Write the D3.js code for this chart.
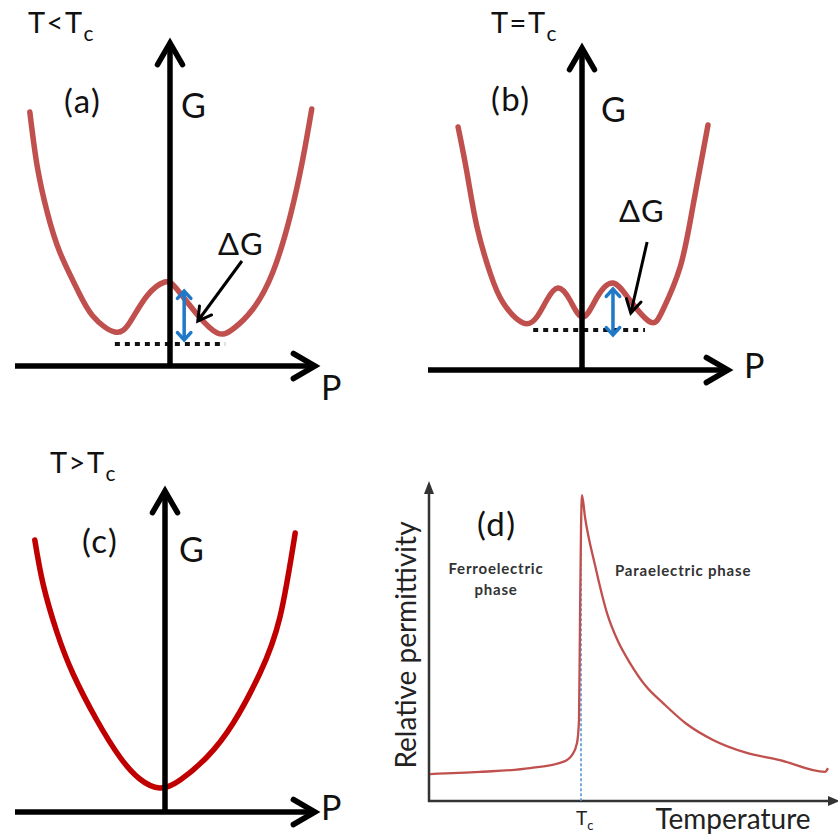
<!DOCTYPE html>
<html>
<head>
<meta charset="utf-8">
<script src="https://cdn.jsdelivr.net/npm/d3@7"></script>
<style>
  html, body { margin: 0; padding: 0; background: #ffffff; }
  svg { display: block; font-family: Lato, "Open Sans", sans-serif; }
</style>
</head>
<body>
<svg id="chart" width="838" height="837"></svg>
<script>
// Free energy G(P) below, at and above the Curie temperature (traced profiles)
const gBelowP = [-2.67, -2.53, -2.34, -2.10, -1.77, -1.47, -1.05, -0.76, -0.44, -0.10, 0.13, 0.51, 0.90, 1.20, 1.58, 1.96, 2.29, 2.53, 2.70];
const gBelowG = [5.08, 4.00, 3.08, 2.28, 1.54, 1.00, 0.68, 0.88, 1.40, 1.68, 1.54, 1.04, 0.66, 0.74, 1.14, 1.88, 3.00, 4.14, 5.14];

const gAtP = [-2.36, -2.19, -2.00, -1.75, -1.50, -1.12, -0.86, -0.67, -0.46, -0.23, 0.02, 0.29, 0.59, 0.91, 1.30, 1.54, 1.87, 2.11, 2.40];
const gAtG = [4.86, 3.94, 2.86, 1.94, 1.34, 0.94, 1.06, 1.40, 1.64, 1.40, 1.06, 1.46, 1.74, 1.40, 0.96, 1.20, 2.06, 3.26, 4.90];

const gAboveP = [-2.48, -2.32, -2.06, -1.75, -1.30, -0.86, -0.48, -0.10, 0.29, 0.80, 1.30, 1.81, 2.19, 2.48];
const gAboveG = [5.44, 4.55, 3.60, 2.76, 1.84, 1.10, 0.66, 0.48, 0.64, 1.10, 1.78, 2.78, 3.90, 5.58];

// Barrier height markers: [P of arrow, G top, G bottom]
const barrierBelow = [0.27, 1.50, 0.52];
const barrierAt = [0.59, 1.62, 0.70];
// Reference level (dotted) [P from, P to, G]
const levelBelow = [-1.05, 1.05, 0.44];
const levelAt = [-0.93, 1.20, 0.80];
// Pointer for the ΔG label [P start, G start, P tip, G tip]
const pointerBelow = [1.37, 2.10, 0.53, 0.90];
const pointerAt = [1.24, 2.56, 0.93, 1.14];

// Relative permittivity versus temperature
const tempValues = [0, 12.5, 25, 33.25, 35.5, 36.75, 37.25, 37.5, 37.75, 38, 38.75, 41.25, 44.25, 47, 50, 54, 58.25, 64, 70.75, 79, 87.5, 98.75, 99.5];
const permValues = [8.7, 9.4, 10.6, 12.6, 14.8, 18.7, 26.1, 58.4, 87.4, 98.7, 91.6, 76.1, 60.6, 51.5, 44.5, 37, 31.6, 25, 19.7, 15.6, 13.2, 9.4, 10.6];
const curieTemp = 38;

const titles = ["T<T", "T=T", "T>T"];
const panelTags = ["(a)", "(b)", "(c)", "(d)"];

const svg = d3.select("#chart");

function head(g, x, y, angleDeg, len, spread, color, width) {
  // open chevron arrow head pointing along angleDeg, tip at (x,y)
  const a = angleDeg * Math.PI / 180;
  const s = spread * Math.PI / 180;
  const p1 = [x - len * Math.cos(a - s), y - len * Math.sin(a - s)];
  const p2 = [x - len * Math.cos(a + s), y - len * Math.sin(a + s)];
  g.append("path")
    .attr("d", `M${p1[0]},${p1[1]}L${x},${y}L${p2[0]},${p2[1]}`)
    .attr("fill", "none").attr("stroke", color).attr("stroke-width", width)
    .attr("stroke-linejoin", "miter").attr("stroke-linecap", "round");
}

function arrow(g, x1, y1, x2, y2, color, width, hlen, spread) {
  g.append("line").attr("x1", x1).attr("y1", y1).attr("x2", x2).attr("y2", y2)
    .attr("stroke", color).attr("stroke-width", width);
  const ang = Math.atan2(y2 - y1, x2 - x1) * 180 / Math.PI;
  head(g, x2, y2, ang, hlen, spread, color, width);
}

function title(g, x, y, main) {
  const t = g.append("text").attr("x", x).attr("y", y)
    .attr("font-size", 29).attr("letter-spacing", 1.5).attr("fill", "#111");
  t.append("tspan").text(main);
  t.append("tspan").attr("font-size", 21).attr("dy", 8).text("c");
}

function label(g, x, y, txt, size, spacing) {
  g.append("text").attr("x", x).attr("y", y)
    .attr("font-size", size).attr("fill", "#111")
    .attr("letter-spacing", spacing || 0)
    .attr("dominant-baseline", "central").text(txt);
}

// Landau free-energy panel
function energyPanel(cfg) {
  const g = svg.append("g");
  const x = d3.scaleLinear().domain([-3, 3]).range([cfg.ox - 157.5, cfg.ox + 157.5]);
  const y = d3.scaleLinear().domain([0, 6]).range([cfg.oy, cfg.oy - 300]);
  const pts = d3.zip(cfg.P, cfg.G);

  // energy curve
  g.append("path").datum(pts)
    .attr("d", d3.line().x(d => x(d[0])).y(d => y(d[1])).curve(d3.curveNatural))
    .attr("fill", "none").attr("stroke", cfg.color).attr("stroke-width", 5.5)
    .attr("stroke-linecap", "round");

  // reference level
  if (cfg.level) {
    g.append("line")
      .attr("x1", x(cfg.level[0])).attr("x2", x(cfg.level[1]))
      .attr("y1", y(cfg.level[2])).attr("y2", y(cfg.level[2]))
      .attr("stroke", "#111").attr("stroke-width", 4).attr("stroke-dasharray", "5,5");
  }

  // axes
  arrow(g, cfg.ox, cfg.oy, cfg.ox, cfg.top, "#000", 5.5, 25, 30);
  arrow(g, cfg.left, cfg.oy, cfg.right, cfg.oy, "#000", 5.5, 25, 30);

  // barrier height
  if (cfg.barrier) {
    const bx = x(cfg.barrier[0]), bt = y(cfg.barrier[1]), bb = y(cfg.barrier[2]);
    const bg = g.append("g");
    bg.append("line").attr("x1", bx).attr("x2", bx).attr("y1", bt + 2).attr("y2", bb - 2)
      .attr("stroke", "#1f78c8").attr("stroke-width", 3.5);
    head(bg, bx, bt, -90, 10, 42, "#1f78c8", 3.5);
    head(bg, bx, bb, 90, 10, 42, "#1f78c8", 3.5);
  }
  if (cfg.pointer) {
    arrow(g, x(cfg.pointer[0]), y(cfg.pointer[1]), x(cfg.pointer[2]), y(cfg.pointer[3]), "#000", 3, 15, 30);
  }

  title(g, cfg.titleX, cfg.titleY, cfg.title);
  label(g, cfg.tagX, cfg.tagY, cfg.tag, 33, 1.5);
  label(g, cfg.gX, cfg.gY, "G", 34);
  label(g, cfg.pX, cfg.pY, "P", 34);
  if (cfg.dgX) label(g, cfg.dgX, cfg.dgY, "\u0394G", 31, 1);
}

energyPanel({
  P: gBelowP, G: gBelowG, color: "#c0504d", ox: 170, oy: 366, top: 43, left: 15, right: 315,
  level: levelBelow, barrier: barrierBelow, pointer: pointerBelow,
  title: titles[0], titleX: 28, titleY: 33, tag: panelTags[0], tagX: 64, tagY: 100,
  gX: 181, gY: 104, pX: 321, pY: 386, dgX: 218, dgY: 243
});

energyPanel({
  P: gAtP, G: gAtG, color: "#c0504d", ox: 582, oy: 370, top: 48, left: 428, right: 728,
  level: levelAt, barrier: barrierAt, pointer: pointerAt,
  title: titles[1], titleX: 491, titleY: 33, tag: panelTags[1], tagX: 491, tagY: 98,
  gX: 601, gY: 108, pX: 744, pY: 364, dgX: 619, dgY: 210
});

energyPanel({
  P: gAboveP, G: gAboveG, color: "#c00000", ox: 165, oy: 812, top: 491, left: 15, right: 315,
  title: titles[2], titleX: 50, titleY: 473, tag: panelTags[2], tagX: 82, tagY: 540,
  gX: 179, gY: 548, pX: 321, pY: 806
});

// Permittivity panel
(function () {
  const g = svg.append("g");
  const x = d3.scaleLinear().domain([0, 100]).range([430, 830]);
  const y = d3.scaleLinear().domain([0, 100]).range([801, 491]);
  const axisColor = "#333";

  // axes with solid heads
  g.append("line").attr("x1", 429).attr("x2", 429).attr("y1", 802).attr("y2", 492)
    .attr("stroke", axisColor).attr("stroke-width", 2.5);
  g.append("path").attr("d", "M429,481L424,494L434,494Z").attr("fill", axisColor);
  g.append("line").attr("x1", 428).attr("x2", 830).attr("y1", 801).attr("y2", 801)
    .attr("stroke", axisColor).attr("stroke-width", 2.5);
  g.append("path").attr("d", "M840,801L828,796L828,806Z").attr("fill", axisColor);

  // Curie temperature marker
  g.append("line").attr("x1", x(curieTemp) - 1).attr("x2", x(curieTemp) - 1)
    .attr("y1", y(88)).attr("y2", y(0))
    .attr("stroke", "#4a8fd8").attr("stroke-width", 1.5).attr("stroke-dasharray", "3,2");

  g.append("path").datum(d3.zip(tempValues, permValues))
    .attr("d", d3.line().x(d => x(d[0])).y(d => y(d[1])).curve(d3.curveMonotoneX))
    .attr("fill", "none").attr("stroke", "#c0504d").attr("stroke-width", 2.3)
    .attr("stroke-linejoin", "round");

  label(g, 477, 523, panelTags[3], 33, 1.5);

  g.append("text").attr("transform", "translate(405,645) rotate(-90)")
    .attr("text-anchor", "middle").attr("dominant-baseline", "central")
    .attr("font-size", 28).attr("fill", "#222").text("Relative permittivity");

  g.append("text").attr("x", 733).attr("y", 818).attr("text-anchor", "middle")
    .attr("dominant-baseline", "central").attr("font-size", 28).attr("fill", "#222")
    .text("Temperature");

  const tc = g.append("text").attr("x", 576).attr("y", 825).attr("font-size", 19).attr("fill", "#222");
  tc.append("tspan").text("T");
  tc.append("tspan").attr("font-size", 13).attr("dy", 5).text("c");

  const ferro = g.append("text").attr("text-anchor", "middle").attr("font-size", 15)
    .attr("letter-spacing", 0.8).attr("font-weight", "bold").attr("fill", "#333");
  ferro.append("tspan").attr("x", 496).attr("y", 574).text("Ferroelectric");
  ferro.append("tspan").attr("x", 496).attr("y", 595).text("phase");

  g.append("text").attr("x", 615).attr("y", 576).attr("font-size", 15)
    .attr("letter-spacing", 0.8).attr("font-weight", "bold").attr("fill", "#333").text("Paraelectric phase");
})();
</script>
</body>
</html>
